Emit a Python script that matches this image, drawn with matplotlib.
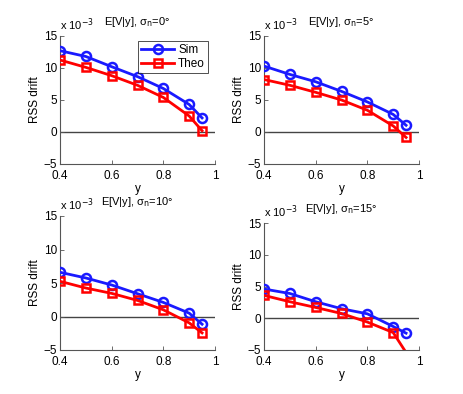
import matplotlib
matplotlib.use("Agg")
import matplotlib.pyplot as plt

plt.rcParams['font.family'] = ['Liberation Sans', 'DejaVu Sans']
plt.rcParams['font.size'] = 7.5

y_vals = [0.4, 0.5, 0.6, 0.7, 0.8, 0.9, 0.95]
sigmas = [0, 5, 10, 15]
# values in units of 1e-3
sim = [
    [12.7, 11.8, 10.2, 8.65, 6.8, 4.3, 2.2],
    [10.3, 9.0, 7.85, 6.35, 4.7, 2.75, 1.05],
    [6.6, 5.75, 4.7, 3.4, 2.1, 0.5, -1.15],
    [4.6, 3.9, 2.6, 1.5, 0.7, -1.3, -2.35],
]
theo = [
    [11.25, 10.1, 8.8, 7.3, 5.4, 2.5, 0.2],
    [8.2, 7.3, 6.2, 5.0, 3.4, 0.95, -0.85],
    [5.25, 4.25, 3.45, 2.4, 1.0, -0.95, -2.45],
    [3.6, 2.6, 1.7, 0.75, -0.6, -2.25, -5.4],
]
xticks = [0.4, 0.6, 0.8, 1]
xticklabels = ['0.4', '0.6', '0.8', '1']
yticks = [-5, 0, 5, 10, 15]
yticklabels = ['\u22125', '0', '5', '10', '15']
ylim = (-5, 15)

W, H = 463, 394
fig = plt.figure(figsize=(W / 100, H / 100), dpi=100)

# axes boxes in pixels: (left, top, right, bottom)
boxes = [(60, 36, 215, 164), (264, 36, 419, 164),
         (60, 216, 215, 350), (264, 223, 419, 350)]

blue = '#1a1aff'
red = '#ff0000'
axcol = '#555555'


def inside(vals):
    return [k for k, v in enumerate(vals) if ylim[0] <= v <= ylim[1]]


for i, (l, t, r, b) in enumerate(boxes):
    ax = fig.add_axes([l / W, 1 - b / H, (r - l) / W, (b - t) / H])
    ax.axhline(0, color='#444444', lw=1.0, zorder=1)
    ax.plot(y_vals, sim[i], '-o', color=blue, lw=2, ms=6.5, mfc='none',
            mew=1.8, label='Sim', zorder=3, markevery=inside(sim[i]))
    ax.plot(y_vals, theo[i], '-s', color=red, lw=2, ms=6, mfc='none',
            mew=1.8, label='Theo', zorder=3, markevery=inside(theo[i]))
    ax.set_xlim(0.4, 1)
    ax.set_ylim(*ylim)
    ax.set_xticks(xticks)
    ax.set_xticklabels(xticklabels)
    ax.set_yticks(yticks)
    ax.set_yticklabels(yticklabels)
    ax.spines['top'].set_visible(False)
    ax.spines['right'].set_visible(False)
    for s in ('left', 'bottom'):
        ax.spines[s].set_color(axcol)
        ax.spines[s].set_linewidth(0.8)
    ax.tick_params(direction='in', length=3, width=0.6, color=axcol,
                   labelsize=8.5)
    ax.tick_params(axis='x', pad=4)
    ax.tick_params(axis='y', pad=2)
    ax.set_xlabel('y', fontsize=8.5, labelpad=1)
    ax.set_ylabel('RSS drift', fontsize=8.5, labelpad=2)
    ax.set_title('E[V|y], \u03c3$_{\\rm n}$=%d\u00b0' % sigmas[i],
                 fontsize=8, pad=8)
    ax.text(0.0, 1.02, 'x 10$^{-3}$', transform=ax.transAxes,
            fontsize=8, ha='left', va='bottom')
    if i == 0:
        leg = ax.legend(loc='upper right', bbox_to_anchor=(0.955, 0.96),
                        fontsize=8.5, frameon=True, fancybox=False,
                        handlelength=2.8, borderpad=0.25, labelspacing=0.15,
                        handletextpad=0.35, borderaxespad=0)
        leg.get_frame().set_edgecolor('black')
        leg.get_frame().set_linewidth(0.6)

fig.savefig('out.png', dpi=100)
